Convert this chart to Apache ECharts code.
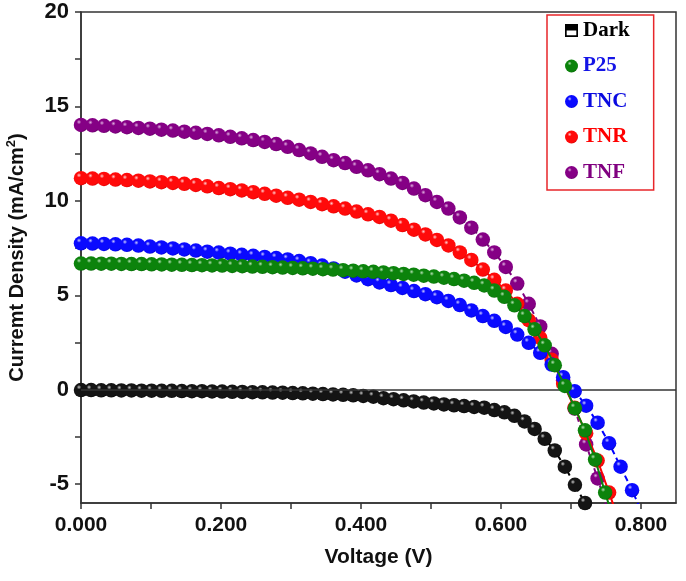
<!DOCTYPE html>
<html>
<head>
<meta charset="utf-8">
<script src="https://cdn.jsdelivr.net/npm/echarts@6/dist/echarts.min.js"></script>
<style>
html,body{margin:0;padding:0;background:#fff;}
#c{width:686px;height:581px;}
</style>
</head>
<body>
<div id="c"></div>
<script>
// Voltage sweeps (V)
const voltA = [0, 0.0164, 0.0328, 0.0492, 0.0656, 0.082, 0.0984, 0.1148, 0.1312, 0.1476,
  0.164, 0.1804, 0.1968, 0.2132, 0.2296, 0.246, 0.2624, 0.2788, 0.2952, 0.3116,
  0.328, 0.3444, 0.3608, 0.3772, 0.3936, 0.41, 0.4264, 0.4428, 0.4592, 0.4756,
  0.492, 0.5084, 0.5248, 0.5412, 0.5576, 0.574, 0.5904, 0.6068, 0.6232, 0.6396,
  0.656, 0.6724, 0.6888, 0.7052, 0.7216, 0.738, 0.7544, 0.7708, 0.7872, 0.8036];
const voltB = [0, 0.0144, 0.0288, 0.0432, 0.0576, 0.072, 0.0864, 0.1008, 0.1152, 0.1296,
  0.144, 0.1584, 0.1728, 0.1872, 0.2016, 0.216, 0.2304, 0.2448, 0.2592, 0.2736,
  0.288, 0.3024, 0.3168, 0.3312, 0.3456, 0.36, 0.3744, 0.3888, 0.4032, 0.4176,
  0.432, 0.4464, 0.4608, 0.4752, 0.4896, 0.504, 0.5184, 0.5328, 0.5472, 0.5616,
  0.576, 0.5904, 0.6048, 0.6192, 0.6336, 0.648, 0.6624, 0.6768, 0.6912, 0.7056,
  0.72, 0.7344, 0.7488, 0.7632];

// Current density (mA/cm2)
const jDark = [-0.02, -0.02, -0.03, -0.03, -0.04, -0.04, -0.05, -0.05, -0.06, -0.06,
  -0.07, -0.08, -0.08, -0.09, -0.10, -0.11, -0.12, -0.13, -0.14, -0.15,
  -0.16, -0.18, -0.19, -0.21, -0.23, -0.25, -0.27, -0.30, -0.33, -0.37,
  -0.45, -0.50, -0.56, -0.62, -0.68, -0.73, -0.78, -0.83, -0.87, -0.91,
  -0.95, -1.08, -1.20, -1.38, -1.68, -2.08, -2.60, -3.22, -4.08, -5.04, -6.0];
const jP25 = [6.68, 6.68, 6.67, 6.67, 6.66, 6.65, 6.65, 6.64, 6.63, 6.62,
  6.61, 6.60, 6.59, 6.58, 6.57, 6.55, 6.54, 6.52, 6.51, 6.49,
  6.47, 6.45, 6.43, 6.41, 6.38, 6.36, 6.33, 6.30, 6.27, 6.24,
  6.21, 6.17, 6.13, 6.09, 6.04, 5.99, 5.93, 5.86, 5.77, 5.66,
  5.52, 5.25, 4.92, 4.47, 3.90, 3.20, 2.35, 1.30, 0.20, -0.98,
  -2.15, -3.70, -5.45, -7.2];
const jTNC = [7.75, 7.74, 7.72, 7.70, 7.67, 7.63, 7.58, 7.53, 7.48, 7.43,
  7.37, 7.31, 7.26, 7.20, 7.14, 7.09, 7.03, 6.97, 6.90, 6.81,
  6.70, 6.57, 6.42, 6.25, 6.05, 5.85, 5.68, 5.54, 5.39, 5.22,
  5.06, 4.90, 4.70, 4.48, 4.20, 3.90, 3.65, 3.32, 2.92, 2.48,
  1.95, 1.33, 0.66, -0.08, -0.85, -1.75, -2.83, -4.08, -5.32, -6.7];
const jTNR = [11.20, 11.18, 11.16, 11.13, 11.10, 11.07, 11.03, 10.99, 10.95, 10.90,
  10.84, 10.77, 10.68, 10.62, 10.55, 10.46, 10.37, 10.27, 10.16, 10.06,
  9.94, 9.82, 9.71, 9.59, 9.43, 9.29, 9.15, 8.95, 8.72, 8.47,
  8.22, 7.93, 7.64, 7.27, 6.87, 6.36, 5.82, 5.25, 4.55, 3.68,
  2.75, 1.58, 0.32, -0.95, -2.30, -3.75, -5.45, -7.2];
const jTNF = [14.02, 14.00, 13.97, 13.94, 13.90, 13.86, 13.82, 13.77, 13.72, 13.66,
  13.60, 13.54, 13.47, 13.39, 13.31, 13.22, 13.12, 13.01, 12.86, 12.69,
  12.51, 12.33, 12.15, 12.00, 11.80, 11.62, 11.41, 11.18, 10.95, 10.65,
  10.30, 9.94, 9.59, 9.12, 8.58, 7.95, 7.27, 6.50, 5.62, 4.55,
  3.35, 1.90, 0.50, -1.00, -2.90, -4.70, -6.6];

const seriesNames = ['Dark', 'P25', 'TNC', 'TNR', 'TNF'];
const xLabelValues = [0, 0.2, 0.4, 0.6, 0.8];
const xTickValues = [0, 0.1, 0.2, 0.3, 0.4, 0.5, 0.6, 0.7, 0.8];
const yLabelValues = [-5, 0, 5, 10, 15, 20];
const yTickValues = [-5, -2.5, 0, 2.5, 5, 7.5, 10, 12.5, 15, 17.5, 20];

function pairs(v, j) { return j.map((y, i) => [v[i], y]); }
function sphere(hi, base, dark) {
  return {
    type: 'radial', x: 0.36, y: 0.3, r: 0.78,
    colorStops: [
      {offset: 0, color: hi},
      {offset: 0.2, color: base},
      {offset: 0.8, color: base},
      {offset: 1, color: dark}
    ]
  };
}
const styles = {
  Dark: {grad: sphere('#c8c8c8', '#141414', '#000000'), line: '#000000', type: [5, 4], z: 2},
  P25: {grad: sphere('#b5e0b5', '#0c830c', '#056005'), line: '#0c830c', type: 'solid', z: 6},
  TNC: {grad: sphere('#c8c8ff', '#0a0aff', '#0000b8'), line: '#0000ff', type: [6, 4], z: 5},
  TNR: {grad: sphere('#ffd0d0', '#ff0a0a', '#c80000'), line: '#ff0000', type: 'solid', z: 4},
  TNF: {grad: sphere('#e0b0e0', '#850085', '#5a005a'), line: '#800080', type: [5, 4], z: 3}
};
const dataMap = {
  Dark: pairs(voltB, jDark),
  P25: pairs(voltB, jP25),
  TNC: pairs(voltA, jTNC),
  TNR: pairs(voltA, jTNR),
  TNF: pairs(voltA, jTNF)
};
const drawOrder = ['Dark', 'TNF', 'TNR', 'TNC', 'P25'];

const axisFont = {fontFamily: '"Liberation Sans", Arial, sans-serif', fontWeight: 'bold', color: '#111'};
const series = drawOrder.map(n => ({
  name: n,
  type: 'line',
  data: dataMap[n],
  symbol: 'circle',
  symbolSize: 14.5,
  showAllSymbol: true,
  clip: true,
  z: styles[n].z,
  itemStyle: {color: styles[n].grad},
  lineStyle: {color: styles[n].line, width: 2, type: styles[n].type},
  emphasis: {disabled: true},
  animation: false
}));
series.unshift({
  name: 'zero',
  type: 'line',
  data: [],
  z: 1,
  markLine: {
    silent: true, symbol: 'none', animation: false,
    label: {show: false},
    lineStyle: {color: '#333', width: 1.5, type: 'solid'},
    data: [{yAxis: 0}]
  }
});

const legendText = {
  Dark: '#000000', P25: '#1414e6', TNC: '#0a0ae0', TNR: '#ff0000', TNF: '#800080'
};
const legendData = seriesNames.map(n => {
  const item = {name: n, textStyle: {color: legendText[n]}};
  if (n === 'Dark') {
    item.icon = 'path://M0,0L10,0L10,10L0,10Z M1.3,5L1.3,8.7L8.7,8.7L8.7,5Z';
    item.itemStyle = {color: '#000'};
  } else {
    item.icon = 'circle';
  }
  return item;
});

const chart = echarts.init(document.getElementById('c'), null, {renderer: 'canvas'});
chart.setOption({
  animation: false,
  backgroundColor: '#fff',
  grid: {left: 81, right: 10, top: 12, bottom: 78, containLabel: false, outerBoundsMode: 'none',
    show: true, borderColor: '#333', borderWidth: 1.5, backgroundColor: 'transparent'},
  legend: {
    orient: 'vertical', left: 547, top: 15,
    padding: [5, 24, 7, 18],
    itemGap: 14.5, itemWidth: 13, itemHeight: 13, itemTextGap: 20,
    borderColor: '#e8262a', borderWidth: 1.5,
    selectedMode: false,
    textStyle: {fontFamily: '"Liberation Serif", "DejaVu Serif", serif', fontWeight: 'bold', fontSize: 21, lineHeight: 20},
    data: legendData
  },
  xAxis: {
    type: 'value', min: 0, max: 0.85,
    name: 'Voltage (V)', nameLocation: 'middle', nameGap: 44,
    nameTextStyle: Object.assign({fontSize: 21}, axisFont),
    axisLine: {show: true, onZero: false, lineStyle: {color: '#333', width: 1.5}},
    axisTick: {show: true, inside: false, length: 6, customValues: xTickValues, lineStyle: {color: '#333', width: 1.5}},
    axisLabel: Object.assign({show: true, fontSize: 21, margin: 12, customValues: xLabelValues,
      formatter: v => v.toFixed(3)}, axisFont),
    splitLine: {show: false}
  },
  yAxis: {
    type: 'value', min: -6, max: 20,
    name: '{a|Curremt Density (mA/cm}{s|2}{a|)}', nameLocation: 'middle', nameGap: 52, nameRotate: 90,
    nameTextStyle: {
      rich: {
        a: Object.assign({fontSize: 20, lineHeight: 24}, axisFont),
        s: Object.assign({fontSize: 13, lineHeight: 12, verticalAlign: 'top'}, axisFont)
      }
    },
    axisLine: {show: true, onZero: false, lineStyle: {color: '#333', width: 1.5}},
    axisTick: {show: true, inside: false, length: 6, customValues: yTickValues, lineStyle: {color: '#333', width: 1.5}},
    axisLabel: Object.assign({show: true, fontSize: 22, margin: 12, customValues: yLabelValues}, axisFont),
    splitLine: {show: false}
  },
  series: series
});
</script>
</body>
</html>
